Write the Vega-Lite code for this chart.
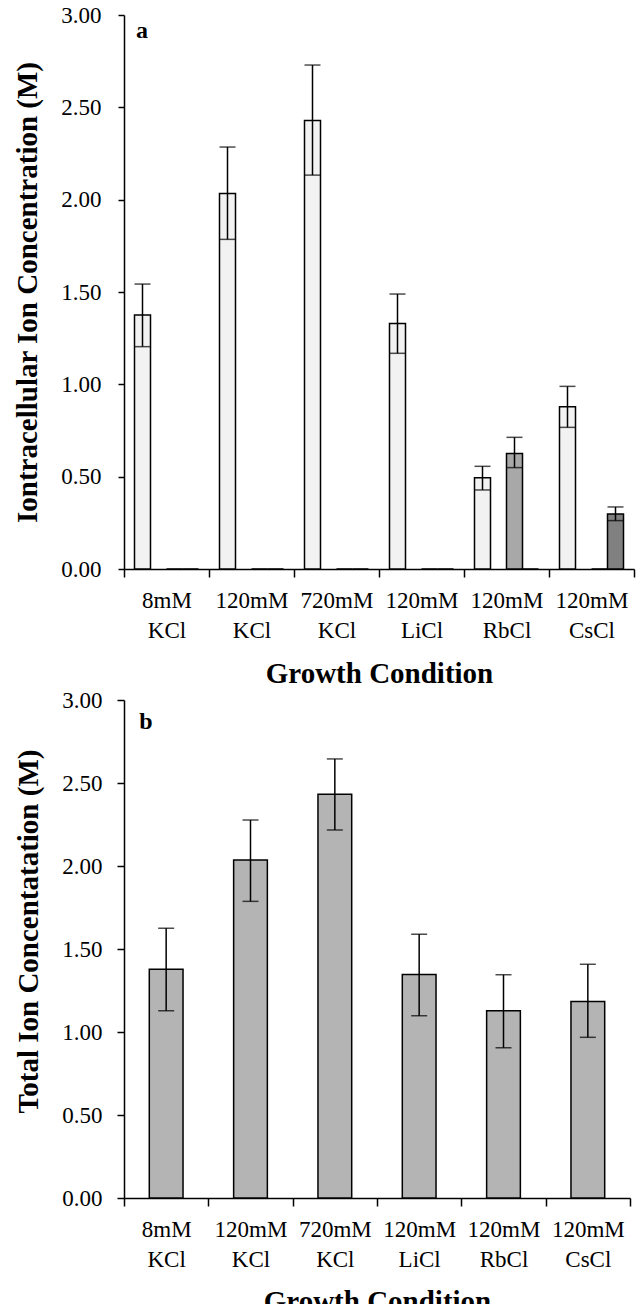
{
  "$schema": "https://vega.github.io/schema/vega-lite/v6.json",
  "background": "white",
  "padding": {"left": 13, "top": 4, "right": 6, "bottom": 0},
  "config": {
    "view": {"stroke": null},
    "font": "Liberation Serif",
    "axis": {
      "labelFont": "Liberation Serif",
      "titleFont": "Liberation Serif",
      "labelColor": "black",
      "titleColor": "black",
      "domainColor": "black",
      "tickColor": "black",
      "domainWidth": 1.5,
      "tickWidth": 1.5,
      "labelFontSize": 23,
      "titleFontSize": 29,
      "titleFontWeight": "bold",
      "grid": false
    }
  },
  "vconcat": [
    {
      "width": 510,
      "height": 554,
      "data": {"values": [
        {"condition": "8mM KCl", "ion": "K", "value": 1.375, "lo": 1.204, "hi": 1.543},
        {"condition": "8mM KCl", "ion": "Rb", "value": 0},
        {"condition": "8mM KCl", "ion": "Cs", "value": 0},
        {"condition": "120mM KCl", "ion": "K", "value": 2.034, "lo": 1.785, "hi": 2.285},
        {"condition": "120mM KCl", "ion": "Rb", "value": 0},
        {"condition": "120mM KCl", "ion": "Cs", "value": 0},
        {"condition": "720mM KCl", "ion": "K", "value": 2.429, "lo": 2.133, "hi": 2.729},
        {"condition": "720mM KCl", "ion": "Rb", "value": 0},
        {"condition": "720mM KCl", "ion": "Cs", "value": 0},
        {"condition": "120mM LiCl", "ion": "K", "value": 1.33, "lo": 1.168, "hi": 1.489},
        {"condition": "120mM LiCl", "ion": "Rb", "value": 0},
        {"condition": "120mM LiCl", "ion": "Cs", "value": 0},
        {"condition": "120mM RbCl", "ion": "K", "value": 0.494, "lo": 0.428, "hi": 0.556},
        {"condition": "120mM RbCl", "ion": "Rb", "value": 0.626, "lo": 0.549, "hi": 0.713},
        {"condition": "120mM RbCl", "ion": "Cs", "value": 0},
        {"condition": "120mM CsCl", "ion": "K", "value": 0.879, "lo": 0.767, "hi": 0.989},
        {"condition": "120mM CsCl", "ion": "Rb", "value": 0},
        {"condition": "120mM CsCl", "ion": "Cs", "value": 0.298, "lo": 0.262, "hi": 0.336}
      ]},
      "encoding": {
        "x": {
          "field": "condition", "type": "nominal", "sort": null,
          "scale": {"paddingInner": 0, "paddingOuter": 0},
          "axis": {
            "title": "Growth Condition",
            "labelAngle": 0,
            "labelExpr": "split(datum.label, ' ')",
            "labelLineHeight": 30,
            "labelPadding": 12,
            "tickBand": "extent",
            "tickSize": 8,
            "titlePadding": 17
          }
        },
        "xOffset": {
          "field": "ion", "type": "nominal",
          "scale": {"domain": ["K", "Li", "Rb", "Cs"], "paddingInner": 0, "paddingOuter": 0.656}
        }
      },
      "layer": [
        {
          "mark": {"type": "bar", "stroke": "black", "strokeWidth": 1.5},
          "encoding": {
            "y": {
              "field": "value", "type": "quantitative",
              "scale": {"domain": [0, 3], "nice": false},
              "axis": {
                "title": "Iontracellular Ion Concentration  (M)",
                "values": [0, 0.5, 1, 1.5, 2, 2.5, 3],
                "format": ".2f",
                "tickSize": 6,
                "labelPadding": 17,
                "titlePadding": 18
              }
            },
            "fill": {
              "field": "ion", "type": "nominal",
              "scale": {"domain": ["K", "Li", "Rb", "Cs"], "range": ["#f2f2f2", "#e0e0e0", "#a8a8a8", "#808080"]},
              "legend": null
            }
          }
        },
        {
          "transform": [{"filter": "isValid(datum.hi)"}],
          "mark": {"type": "rule", "color": "black", "strokeWidth": 1.5},
          "encoding": {
            "y": {"field": "lo", "type": "quantitative"},
            "y2": {"field": "hi"}
          }
        },
        {
          "transform": [{"filter": "isValid(datum.hi)"}],
          "mark": {"type": "tick", "color": "black", "thickness": 1.5, "size": 16},
          "encoding": {"y": {"field": "hi", "type": "quantitative"}}
        },
        {
          "transform": [{"filter": "isValid(datum.lo)"}],
          "mark": {"type": "tick", "color": "black", "thickness": 1.5, "size": 16},
          "encoding": {"y": {"field": "lo", "type": "quantitative"}}
        },
        {
          "data": {"values": [{"panel": "a"}]},
          "mark": {"type": "text", "fontWeight": "bold", "fontSize": 24, "align": "left", "baseline": "alphabetic", "dx": 12, "dy": 23, "color": "black"},
          "encoding": {
            "text": {"field": "panel"},
            "x": {"datum": "8mM KCl"},
            "xOffset": {"value": 0},
            "y": {"datum": 3}
          }
        }
      ]
    },
    {
      "width": 506,
      "height": 498,
      "data": {"values": [
        {"condition": "8mM KCl", "value": 1.378, "lo": 1.128, "hi": 1.625},
        {"condition": "120mM KCl", "value": 2.036, "lo": 1.787, "hi": 2.277},
        {"condition": "720mM KCl", "value": 2.432, "lo": 2.217, "hi": 2.645},
        {"condition": "120mM LiCl", "value": 1.347, "lo": 1.098, "hi": 1.589},
        {"condition": "120mM RbCl", "value": 1.128, "lo": 0.905, "hi": 1.345},
        {"condition": "120mM CsCl", "value": 1.183, "lo": 0.968, "hi": 1.408}
      ]},
      "encoding": {
        "x": {
          "field": "condition", "type": "nominal", "sort": null,
          "scale": {"paddingInner": 0, "paddingOuter": 0},
          "axis": {
            "title": "Growth Condition",
            "labelAngle": 0,
            "labelExpr": "split(datum.label, ' ')",
            "labelLineHeight": 30,
            "labelPadding": 12,
            "tickBand": "extent",
            "tickSize": 8,
            "titlePadding": 16
          }
        }
      },
      "layer": [
        {
          "mark": {"type": "bar", "fill": "#b4b4b4", "stroke": "black", "strokeWidth": 1.5, "width": {"band": 0.4}},
          "encoding": {
            "y": {
              "field": "value", "type": "quantitative",
              "scale": {"domain": [0, 3], "nice": false},
              "axis": {
                "title": "Total Ion Concentatation  (M)",
                "values": [0, 0.5, 1, 1.5, 2, 2.5, 3],
                "format": ".2f",
                "tickSize": 7,
                "labelPadding": 15,
                "titlePadding": 17,
                "titleX": -81,
                "titleY": 231
              }
            }
          }
        },
        {
          "mark": {"type": "rule", "color": "black", "strokeWidth": 1.5},
          "encoding": {
            "y": {"field": "lo", "type": "quantitative"},
            "y2": {"field": "hi"}
          }
        },
        {
          "mark": {"type": "tick", "color": "black", "thickness": 1.5, "size": 16},
          "encoding": {"y": {"field": "hi", "type": "quantitative"}}
        },
        {
          "mark": {"type": "tick", "color": "black", "thickness": 1.5, "size": 16},
          "encoding": {"y": {"field": "lo", "type": "quantitative"}}
        },
        {
          "data": {"values": [{"panel": "b"}]},
          "mark": {"type": "text", "fontWeight": "bold", "fontSize": 24, "align": "left", "baseline": "alphabetic", "dx": -27, "dy": 29, "color": "black"},
          "encoding": {
            "text": {"field": "panel"},
            "x": {"datum": "8mM KCl"},
            "y": {"datum": 3}
          }
        }
      ]
    }
  ],
  "spacing": 1
}
